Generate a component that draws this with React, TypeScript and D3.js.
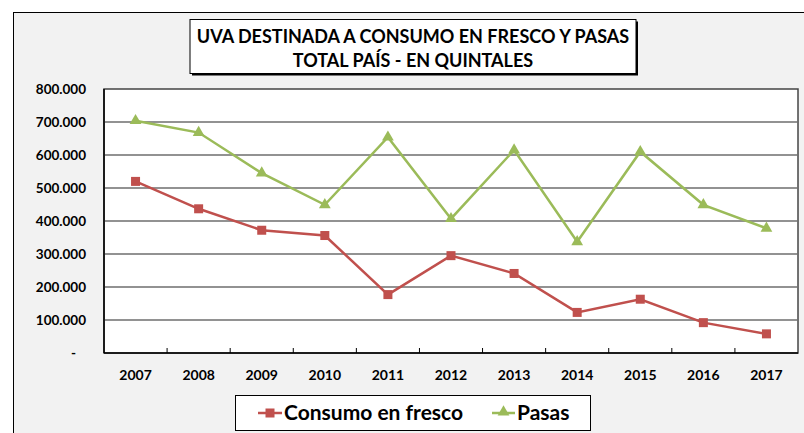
import React from "react";
import * as d3 from "d3";

const years = ["2007","2008","2009","2010","2011","2012","2013","2014","2015","2016","2017"];
const consumo = [520000, 437000, 372000, 356000, 177000, 295000, 241000, 123000, 163000, 92000, 58000];
const pasas = [704000, 668000, 545000, 449000, 654000, 407000, 615000, 337000, 610000, 449000, 378000];
const yTicks = [0, 100000, 200000, 300000, 400000, 500000, 600000, 700000, 800000];
const titleLines = ["UVA DESTINADA A CONSUMO EN FRESCO Y PASAS", "TOTAL PAÍS - EN QUINTALES"];
const seriesNames = ["Consumo en fresco", "Pasas"];

const RED = "#C0504D";
const GREEN = "#9BBB59";
const FONT = "Lato, 'Open Sans', sans-serif";

const fmt = (v: number) => (v === 0 ? "-" : d3.format(",")(v).replace(/,/g, "."));

export default function App() {
  const W = 804, H = 433;
  const left = 104, right = 798, top = 89, bottom = 353;
  const x = d3.scaleBand<string>().domain(years).range([left, right]);
  const y = d3.scaleLinear().domain([0, 800000]).range([bottom, top]);
  const cx = (d: string) => (x(d) as number) + x.bandwidth() / 2;
  const line = d3.line<number>().x((_, i) => cx(years[i])).y((v) => y(v));
  const tri = d3.symbol().type(d3.symbolTriangle).size(60)();
  const tickXs = years.slice(1).map((d) => x(d) as number);

  return (
    <svg width={W} height={H} style={{ position: "absolute", left: 0, top: 0 }} fontFamily={FONT}>
      <rect x={0} y={0} width={W} height={H} fill="#ffffff" />
      <rect x={13.5} y={12.5} width={W} height={H} fill="#f2f2f2" stroke="#000" strokeWidth={1} />
      {/* plot area */}
      <rect x={left} y={top} width={right - left} height={bottom - top} fill="#fff" stroke="#444" strokeWidth={1.5} />
      {yTicks.slice(1, -1).map((t) => (
        <line key={t} x1={left} x2={right} y1={y(t)} y2={y(t)} stroke="#6e6e6e" strokeWidth={1.3} />
      ))}
      {/* axes */}
      <line x1={left} x2={left} y1={top} y2={bottom} stroke="#000" strokeWidth={1.5} />
      <line x1={left} x2={right} y1={bottom} y2={bottom} stroke="#000" strokeWidth={1.5} />
      {tickXs.map((tx, i) => (
        <line key={i} x1={tx} x2={tx} y1={bottom - 5} y2={bottom} stroke="#000" strokeWidth={1} />
      ))}
      {yTicks.map((t) => (
        <text key={t} x={t === 0 ? 76 : 86} y={y(t)} dy="0.35em" textAnchor="end" fontSize={13.5} fontWeight="bold" fill="#000">
          {fmt(t)}
        </text>
      ))}
      {years.map((d) => (
        <text key={d} x={cx(d)} y={380} textAnchor="middle" fontSize={14} fontWeight="bold" fill="#000">
          {d}
        </text>
      ))}
      {/* series */}
      <path d={line(consumo) || ""} fill="none" stroke={RED} strokeWidth={2.5} />
      {consumo.map((v, i) => (
        <rect key={i} x={cx(years[i]) - 4.5} y={y(v) - 4.5} width={9} height={9} fill={RED} />
      ))}
      <path d={line(pasas) || ""} fill="none" stroke={GREEN} strokeWidth={2.5} />
      {pasas.map((v, i) => (
        <path key={i} d={tri || ""} transform={`translate(${cx(years[i])},${y(v)})`} fill={GREEN} />
      ))}
      {/* title */}
      <rect x={192} y={21.5} width={446} height={54} fill="#000" />
      <rect x={190} y={19.5} width={446} height={54} fill="#fff" stroke="#000" strokeWidth={1} />
      {titleLines.map((t, i) => (
        <text key={i} x={413} y={43 + i * 24} textAnchor="middle" fontSize={18} fontWeight="bold" fill="#000">
          {t}
        </text>
      ))}
      {/* legend */}
      <rect x={235.5} y={395.5} width={355} height={35} fill="#fff" stroke="#000" strokeWidth={1} />
      <line x1={258} x2={282} y1={413} y2={413} stroke={RED} strokeWidth={2.5} />
      <rect x={265.5} y={408.5} width={9} height={9} fill={RED} />
      <text x={284} y={413} dy="0.35em" fontSize={21} fontWeight="bold" fill="#000">{seriesNames[0]}</text>
      <line x1={492} x2={515} y1={413} y2={413} stroke={GREEN} strokeWidth={2.5} />
      <path d={tri || ""} transform={`translate(503.5,412)`} fill={GREEN} />
      <text x={517} y={413} dy="0.35em" fontSize={21} fontWeight="bold" fill="#000">{seriesNames[1]}</text>
    </svg>
  );
}
